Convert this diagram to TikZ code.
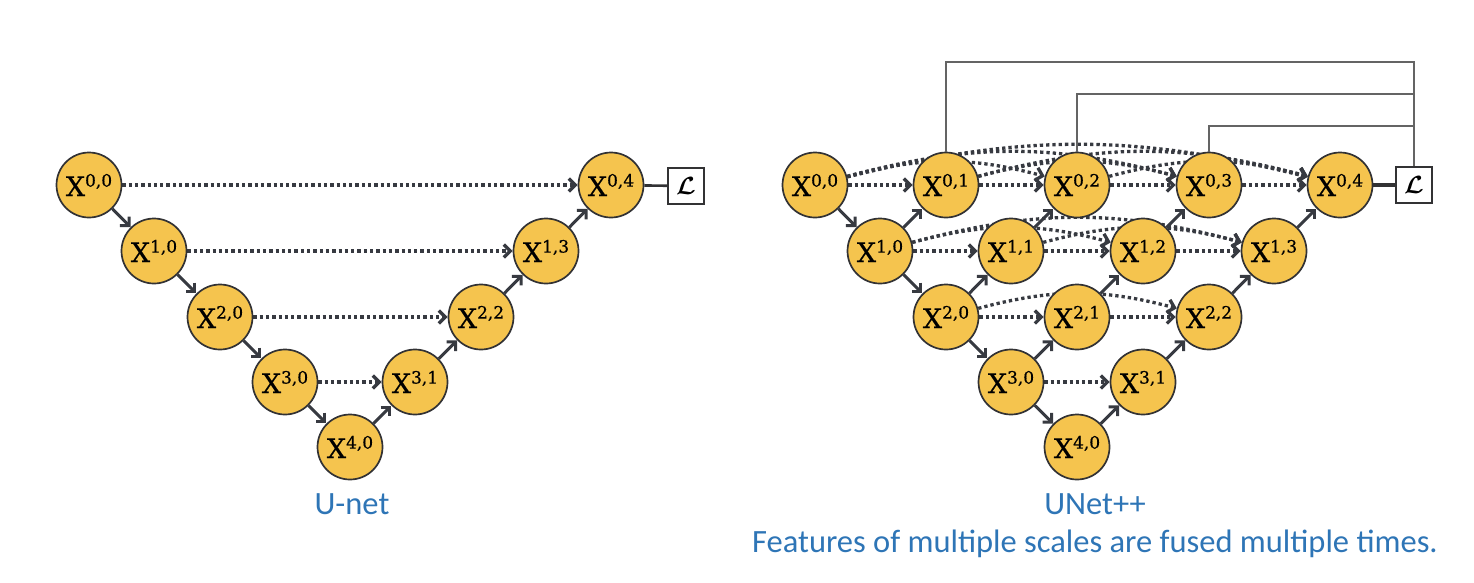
\documentclass[tikz,border=0pt]{standalone}
\usepackage{fontspec}
\usepackage{amsmath}
\setmainfont{Carlito}
\newfontfamily\nodefont[FakeBold=0.6]{DejaVu Serif}
\usetikzlibrary{arrows.meta,backgrounds}
\definecolor{ndfill}{RGB}{245,196,78}
\definecolor{ndline}{RGB}{50,50,52}
\definecolor{arrcol}{RGB}{55,58,65}
\definecolor{capcol}{RGB}{46,117,182}
\definecolor{supcol}{RGB}{100,100,100}
\newcommand\Xsup[2]{{\nodefont\fontsize{27}{27}\selectfont X\raisebox{9.5pt}{\fontsize{17}{17}\selectfont #1,#2}}}
\tikzset{
  nd/.style={circle, draw=ndline, line width=1.7pt, fill=ndfill, minimum size=65pt, inner sep=0pt},
  lossbox/.style={rectangle, draw=ndline, line width=2pt, fill=white, minimum size=36pt, inner sep=0pt,
    font=\fontsize{28}{28}\selectfont},
  solarr/.style={draw=arrcol, line width=3pt, -{Straight Barb[length=6.5pt,width=13pt]}},
  dotarr/.style={draw=arrcol, line width=3.3pt, dash pattern=on 3.3pt off 3pt,
    -{Straight Barb[length=6.5pt,width=13pt]}},
  suplink/.style={draw=supcol, line width=1.5pt},
  lab/.style={text=capcol, inner sep=0pt, font=\fontsize{32.5}{32.5}\selectfont}
}
\begin{document}
\begin{tikzpicture}[x=1pt,y=-1pt]
\useasboundingbox (0,0) rectangle (1474,582);
% ---------- U-net ----------
\node[nd] (a00) at (89,185) {\Xsup{0}{0}};
\node[nd] (a10) at (154,251) {\Xsup{1}{0}};
\node[nd] (a20) at (220,317) {\Xsup{2}{0}};
\node[nd] (a30) at (285,382) {\Xsup{3}{0}};
\node[nd] (a40) at (350,447) {\Xsup{4}{0}};
\node[nd] (a31) at (415,382) {\Xsup{3}{1}};
\node[nd] (a22) at (481,317) {\Xsup{2}{2}};
\node[nd] (a13) at (546,251) {\Xsup{1}{3}};
\node[nd] (a04) at (611,185) {\Xsup{0}{4}};
\node[lossbox] (aL) at (686,186) {$\boldsymbol{\mathcal{L}}$};
\begin{scope}[on background layer]
\draw[solarr] (a00) -- (a10);
\draw[solarr] (a10) -- (a20);
\draw[solarr] (a20) -- (a30);
\draw[solarr] (a30) -- (a40);
\draw[solarr] (a40) -- (a31);
\draw[solarr] (a31) -- (a22);
\draw[solarr] (a22) -- (a13);
\draw[solarr] (a13) -- (a04);
\draw[dotarr] (a00) -- (a04);
\draw[dotarr] (a10) -- (a13);
\draw[dotarr] (a20) -- (a22);
\draw[dotarr] (a30) -- (a31);
\draw[draw=ndline, line width=2.6pt] (a04) -- (aL);
\end{scope}
% ---------- UNet++ ----------
\node[nd] (b00) at (815,185) {\Xsup{0}{0}};
\node[nd] (b10) at (880,251) {\Xsup{1}{0}};
\node[nd] (b20) at (946,317) {\Xsup{2}{0}};
\node[nd] (b30) at (1011,382) {\Xsup{3}{0}};
\node[nd] (b40) at (1077,447) {\Xsup{4}{0}};
\node[nd] (b01) at (946,185) {\Xsup{0}{1}};
\node[nd] (b11) at (1011,251) {\Xsup{1}{1}};
\node[nd] (b21) at (1077,317) {\Xsup{2}{1}};
\node[nd] (b31) at (1143,382) {\Xsup{3}{1}};
\node[nd] (b02) at (1077,185) {\Xsup{0}{2}};
\node[nd] (b12) at (1143,251) {\Xsup{1}{2}};
\node[nd] (b22) at (1209,317) {\Xsup{2}{2}};
\node[nd] (b03) at (1209,185) {\Xsup{0}{3}};
\node[nd] (b13) at (1274,251) {\Xsup{1}{3}};
\node[nd] (b04) at (1340,185) {\Xsup{0}{4}};
\node[lossbox] (bL) at (1414,185) {$\boldsymbol{\mathcal{L}}$};
\coordinate (h1) at (0,62);
\coordinate (h2) at (0,94);
\coordinate (h3) at (0,126);
\begin{scope}[on background layer]
% down path
\draw[solarr] (b00) -- (b10);
\draw[solarr] (b10) -- (b20);
\draw[solarr] (b20) -- (b30);
\draw[solarr] (b30) -- (b40);
% up-sampling
\draw[solarr] (b10) -- (b01);
\draw[solarr] (b20) -- (b11);
\draw[solarr] (b11) -- (b02);
\draw[solarr] (b30) -- (b21);
\draw[solarr] (b21) -- (b12);
\draw[solarr] (b12) -- (b03);
\draw[solarr] (b40) -- (b31);
\draw[solarr] (b31) -- (b22);
\draw[solarr] (b22) -- (b13);
\draw[solarr] (b13) -- (b04);
% dense skip connections, row 0
\draw[dotarr] (b00) -- (b01);
\draw[dotarr] (b01) -- (b02);
\draw[dotarr] (b02) -- (b03);
\draw[dotarr] (b03) -- (b04);
\draw[dotarr] (b00) to[bend left=15] (b02);
\draw[dotarr] (b01) to[bend left=15] (b03);
\draw[dotarr] (b02) to[bend left=15] (b04);
\draw[dotarr] (b00) to[bend left=15] (b03);
\draw[dotarr] (b01) to[bend left=15] (b04);
\draw[dotarr] (b00) to[bend left=14] (b04);
% row 1
\draw[dotarr] (b10) -- (b11);
\draw[dotarr] (b11) -- (b12);
\draw[dotarr] (b12) -- (b13);
\draw[dotarr] (b10) to[bend left=15] (b12);
\draw[dotarr] (b11) to[bend left=15] (b13);
\draw[dotarr] (b10) to[bend left=15] (b13);
% row 2
\draw[dotarr] (b20) -- (b21);
\draw[dotarr] (b21) -- (b22);
\draw[dotarr] (b20) to[bend left=15] (b22);
% row 3
\draw[dotarr] (b30) -- (b31);
% loss
\draw[draw=ndline, line width=4.5pt] (b04) -- (bL);
\end{scope}
% deep supervision
\draw[suplink] (b01.north) -- (b01.north |- h1) -- (bL.north |- h1) -- (bL.north);
\draw[suplink] (b02.north) -- (b02.north |- h2) -- (bL.north |- h2);
\draw[suplink] (b03.north) -- (b03.north |- h3) -- (bL.north |- h3);
% captions
\node[lab, anchor=base] (t1) at (352,514) {U-net};
\node[lab, anchor=base] (t2) at (1095,514) {UNet++};
\node[lab, anchor=base] (t3) at (1095,552) {Features of multiple scales are fused multiple times.};
\end{tikzpicture}
\end{document}
